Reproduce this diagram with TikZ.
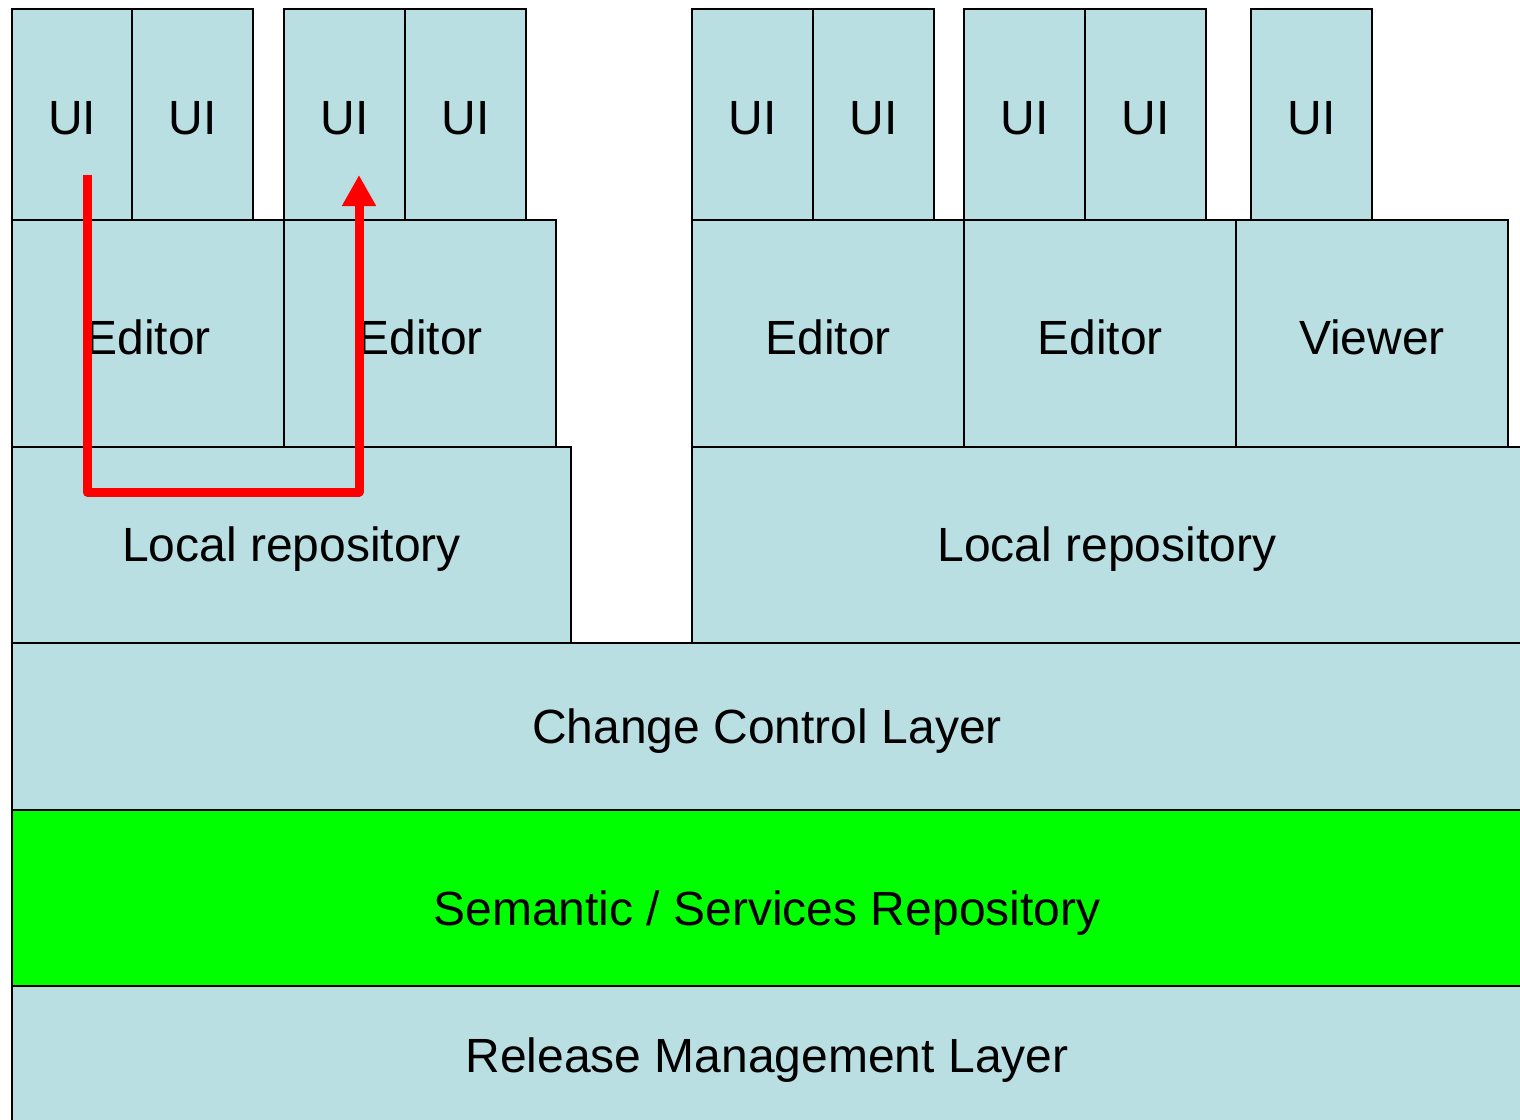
\documentclass[tikz,border=0pt]{standalone}
\usepackage{fontspec}
\setmainfont{Liberation Sans}
\usetikzlibrary{arrows.meta}
\definecolor{boxblue}{HTML}{BADFE2}
\definecolor{semgreen}{HTML}{00FF00}
\begin{document}
\begin{tikzpicture}[x=1pt,y=-1pt,
  box/.style={draw=black, line width=2.2pt, fill=boxblue, inner sep=0pt, outer sep=0pt},
  txt/.style={font=\fontsize{48}{56}\selectfont, text=black, inner sep=0pt, yshift=-4pt},
  redarrow/.style={draw=red, line width=9pt, line join=round,
    -{Triangle[length=31pt,width=32pt]}}]
\useasboundingbox (0,0) rectangle (1520,1119);
\begin{scope}
\clip (0,0) rectangle (1520,1119);
% bottom layers
\node[box, minimum width=1512pt, minimum height=150pt, anchor=north west] (rel) at (12,986) {};
\node[txt] (relt) at (767,1056) {Release Management Layer};
\node[box, fill=semgreen, minimum width=1512pt, minimum height=176pt, anchor=north west] (sem) at (12,810) {};
\node[txt] (semt) at (767,909) {Semantic / Services Repository};
\node[box, minimum width=1512pt, minimum height=167pt, anchor=north west] (ccl) at (12,643) {};
\node[txt] (cclt) at (767,727) {Change Control Layer};
% local repositories
\node[box, minimum width=559pt, minimum height=196pt, anchor=north west] (lr1) at (12,447) {};
\node[txt] (lr1t) at (lr1.center) {Local repository};
\node[box, minimum width=832pt, minimum height=196pt, anchor=north west] (lr2) at (692,447) {};
\node[txt] (lr2t) at (1107,545) {Local repository};
% editors
\node[box, minimum width=272pt, minimum height=227pt, anchor=north west] (ed1) at (12,220) {};
\node[box, minimum width=272pt, minimum height=227pt, anchor=north west] (ed2) at (284,220) {};
\node[box, minimum width=272pt, minimum height=227pt, anchor=north west] (ed3) at (692,220) {};
\node[box, minimum width=272pt, minimum height=227pt, anchor=north west] (ed4) at (964,220) {};
\node[box, minimum width=272pt, minimum height=227pt, anchor=north west] (vw1) at (1236,220) {};
\foreach \n/\t in {ed1/Editor, ed2/Editor, ed3/Editor, ed4/Editor, vw1/Viewer}
  \node[txt] (\n t) at (\n.center) {\t};
% UIs
\node[box, minimum width=120pt, minimum height=211pt, anchor=north west] (ui1) at (12,9) {};
\node[box, minimum width=121pt, minimum height=211pt, anchor=north west] (ui2) at (132,9) {};
\node[box, minimum width=121pt, minimum height=211pt, anchor=north west] (ui3) at (284,9) {};
\node[box, minimum width=121pt, minimum height=211pt, anchor=north west] (ui4) at (405,9) {};
\node[box, minimum width=121pt, minimum height=211pt, anchor=north west] (ui5) at (692,9) {};
\node[box, minimum width=121pt, minimum height=211pt, anchor=north west] (ui6) at (813,9) {};
\node[box, minimum width=121pt, minimum height=211pt, anchor=north west] (ui7) at (964,9) {};
\node[box, minimum width=121pt, minimum height=211pt, anchor=north west] (ui8) at (1085,9) {};
\node[box, minimum width=121pt, minimum height=211pt, anchor=north west] (ui9) at (1251,9) {};
\foreach \n in {ui1,ui2,ui3,ui4,ui5,ui6,ui7,ui8,ui9}
  \node[txt] (\n t) at (\n.center) {UI};
% red arrow
\coordinate (as) at (87,175);
\coordinate (ac) at (359,492);
\coordinate (ae) at (359,175);
\draw[redarrow] (as) |- (ac) -- (ae);
\end{scope}
\end{tikzpicture}
\end{document}
